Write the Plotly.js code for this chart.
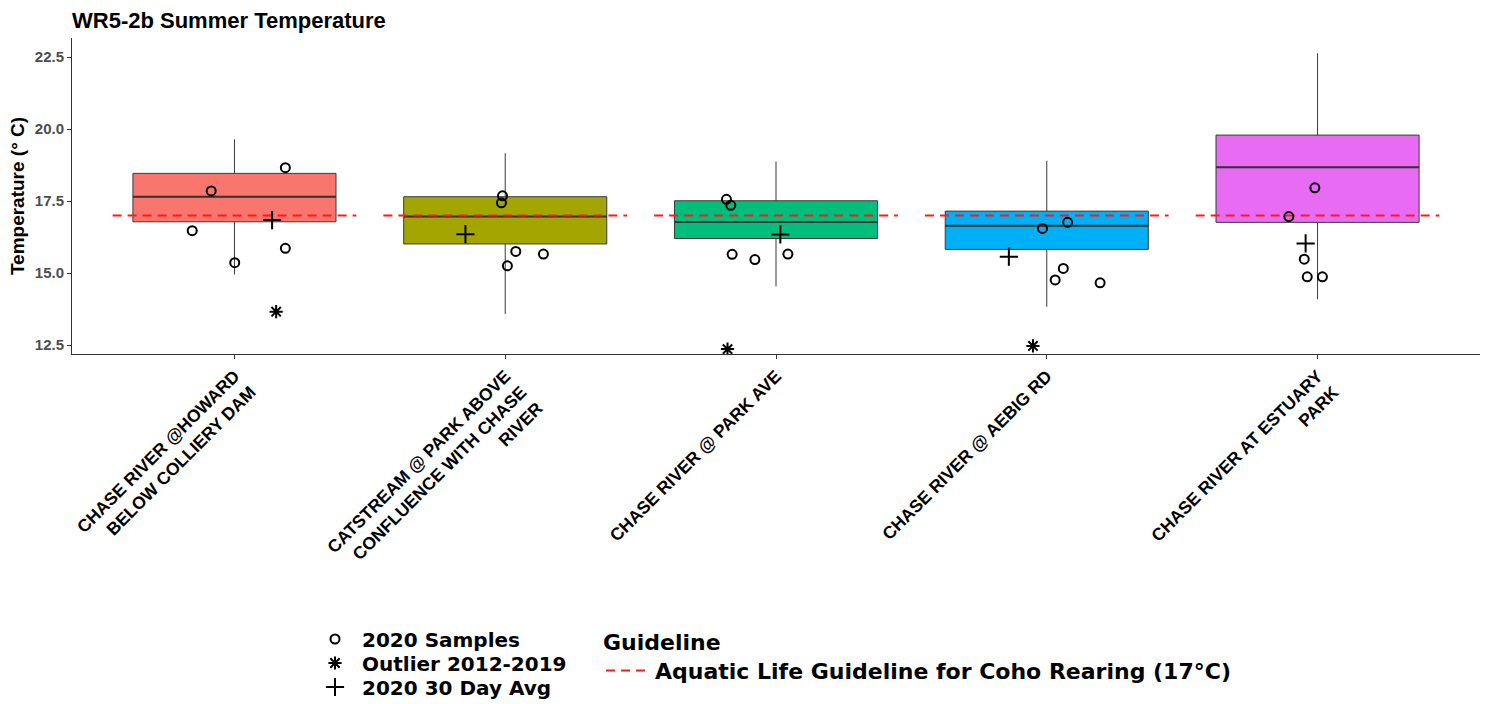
<!DOCTYPE html>
<html>
<head>
<meta charset="utf-8">
<script src="https://cdn.plot.ly/plotly-3.0.1.min.js"></script>
<style>html,body{margin:0;padding:0;background:#fff;}#chart{width:1493px;height:704px;}</style>
</head>
<body>
<div id="chart"></div>
<script>
// ---- data ----
const categories = [
  'CHASE RIVER @HOWARD<br>BELOW COLLIERY DAM',
  'CATSTREAM @ PARK ABOVE<br>CONFLUENCE WITH CHASE<br>RIVER',
  'CHASE RIVER @ PARK AVE',
  'CHASE RIVER @ AEBIG RD',
  'CHASE RIVER AT ESTUARY<br>PARK'
];
const boxColors = ['#F8766D', '#A3A500', '#00BF7D', '#00B0F6', '#E76BF3'];

// box statistics (2012-2019)
const lowerWhisker = [14.95, 13.58, 14.53, 13.83, 14.09];
const q1Values     = [16.78, 16.01, 16.20, 15.82, 16.76];
const medianValues = [17.65, 16.96, 16.77, 16.64, 18.67];
const q3Values     = [18.46, 17.65, 17.51, 17.15, 19.79];
const upperWhisker = [19.64, 19.16, 18.87, 18.90, 22.63];

// 2020 samples (category index, temperature, horizontal jitter)
const sampleCat    = [0, 0, 0, 0, 0,  1, 1, 1, 1, 1,  2, 2, 2, 2, 2,  3, 3, 3, 3, 3,  4, 4, 4, 4, 4];
const sampleTemp   = [16.47, 17.85, 15.36, 18.66, 15.86,
                      17.68, 17.44, 15.75, 15.25, 15.66,
                      17.56, 17.35, 15.65, 15.47, 15.66,
                      16.55, 16.76, 15.16, 14.76, 14.66,
                      17.96, 16.96, 15.48, 14.87, 14.87];
const sampleJitter = [-0.156, -0.086, 0.001, 0.188, 0.188,
                      -0.010, -0.014, 0.039, 0.008, 0.141,
                      -0.183, -0.167, -0.162, -0.078, 0.044,
                      -0.016, 0.077, 0.061, 0.031, 0.197,
                      -0.010, -0.106, -0.049, -0.038, 0.018];

// outliers 2012-2019
const outlierCat    = [0, 2, 3];
const outlierTemp   = [13.66, 12.36, 12.47];
const outlierJitter = [0.154, -0.179, -0.051];

// 2020 30 day average
const avgCat    = [0, 1, 2, 3, 4];
const avgTemp   = [16.84, 16.35, 16.34, 15.57, 16.03];
const avgJitter = [0.139, -0.147, 0.016, -0.140, -0.044];

const guidelineTemp = 17;
const yTicks = [12.5, 15.0, 17.5, 20.0, 22.5];

// ---- build traces ----
const FONT = 'Liberation Sans, Arial, Helvetica, sans-serif';
const LFONT = 'DejaVu Sans, Liberation Sans, Arial, sans-serif';
const BOXW = 0.75;
const W = 1493, H = 704;
const M = {l: 72, r: 13, t: 38, b: 350, autoexpand: false};
const PW = W - M.l - M.r, PH = H - M.t - M.b;
const px2x = px => (px - M.l) / PW;
const py2y = py => (H - M.b - py) / PH;
const traces = [];

categories.forEach((c, i) => {
  traces.push({
    type: 'box',
    x: [i],
    q1: [q1Values[i]], median: [medianValues[i]], q3: [q3Values[i]],
    lowerfence: [lowerWhisker[i]], upperfence: [upperWhisker[i]],
    width: BOXW,
    whiskerwidth: 0,
    fillcolor: boxColors[i],
    line: {color: '#3a3a3a', width: 1},
    boxpoints: false,
    hoverinfo: 'skip',
    showlegend: false
  });
});

// thicker median lines
const medX = [], medY = [];
medianValues.forEach((m, i) => { medX.push(i - BOXW / 2, i + BOXW / 2, null); medY.push(m, m, null); });
traces.push({type: 'scatter', mode: 'lines', x: medX, y: medY, line: {color: '#333', width: 2}, showlegend: false, hoverinfo: 'skip'});

// guideline dashed segments per category
const gX = [], gY = [];
categories.forEach((c, i) => { gX.push(i - 0.45, i + 0.45, null); gY.push(guidelineTemp, guidelineTemp, null); });
traces.push({
  type: 'scatter', mode: 'lines', x: gX, y: gY,
  line: {color: '#FF1A1A', width: 2, dash: '9px,6px'},
  name: 'Aquatic Life Guideline for Coho Rearing (17°C)',
  legend: 'legend2', showlegend: true, hoverinfo: 'skip'
});

traces.push({
  type: 'scatter', mode: 'markers',
  x: sampleCat.map((c, k) => c + sampleJitter[k]), y: sampleTemp,
  marker: {symbol: 'circle-open', size: 9, color: '#000', line: {width: 2, color: '#000'}},
  name: '2020 Samples', legend: 'legend'
});
traces.push({
  type: 'scatter', mode: 'markers',
  x: outlierCat.map((c, k) => c + outlierJitter[k]), y: outlierTemp,
  marker: {symbol: 'asterisk-open', size: 11, color: '#000', line: {width: 2, color: '#000'}},
  name: 'Outlier 2012-2019', legend: 'legend3'
});
traces.push({
  type: 'scatter', mode: 'markers',
  x: avgCat.map((c, k) => c + avgJitter[k]), y: avgTemp,
  marker: {symbol: 'cross-thin-open', size: 13, color: '#000', line: {width: 2, color: '#000'}},
  name: '2020 30 Day Avg', legend: 'legend4'
});

const rowFont = {family: LFONT, size: 20, weight: 'bold', color: '#000'};
const guideFont = {family: LFONT, size: 22, weight: 'bold', color: '#000'};
function rowLegend(py) {
  return {
    x: px2x(308), xanchor: 'left',
    y: py2y(py), yanchor: 'middle',
    bgcolor: 'rgba(0,0,0,0)', borderwidth: 0,
    font: rowFont, itemwidth: 44
  };
}

const layout = {
  width: W, height: H,
  paper_bgcolor: '#fff', plot_bgcolor: '#fff',
  margin: M,
  font: {family: FONT, color: '#000'},
  title: {
    text: 'WR5-2b Summer Temperature',
    x: 0, xref: 'paper', xanchor: 'left',
    y: 1 - 20 / H, yref: 'container', yanchor: 'middle',
    font: {family: FONT, size: 22, weight: 'bold', color: '#000'}
  },
  xaxis: {
    range: [-0.6, 4.6],
    tickmode: 'array',
    tickvals: categories.map((c, i) => i),
    ticktext: categories,
    tickangle: -45,
    tickfont: {family: FONT, size: 17.5, weight: 'bold', color: '#000'},
    showgrid: false, zeroline: false,
    showline: true, linecolor: '#333', linewidth: 1,
    ticks: 'outside', ticklen: 4, tickcolor: '#333',
    fixedrange: true
  },
  yaxis: {
    range: [12.19, 23.16],
    tickmode: 'array',
    tickvals: yTicks,
    ticktext: yTicks.map(v => v.toFixed(1)),
    tickfont: {family: FONT, size: 15, weight: 'bold', color: '#4D4D4D'},
    showgrid: false, zeroline: false,
    showline: true, linecolor: '#333', linewidth: 1,
    ticks: 'outside', ticklen: 4, tickcolor: '#333',
    title: {text: 'Temperature (° C)', standoff: 5, font: {family: FONT, size: 19, weight: 'bold', color: '#000'}},
    fixedrange: true
  },
  legend: rowLegend(639),
  legend3: rowLegend(663),
  legend4: rowLegend(687),
  legend2: {
    x: px2x(601), xanchor: 'left',
    y: py2y(621), yanchor: 'top',
    bgcolor: 'rgba(0,0,0,0)', borderwidth: 0,
    title: {text: 'Guideline', side: 'top', font: guideFont},
    font: guideFont,
    itemwidth: 44
  },
  showlegend: true
};

Plotly.newPlot('chart', traces, layout, {displayModeBar: false, staticPlot: true});
</script>
</body>
</html>
